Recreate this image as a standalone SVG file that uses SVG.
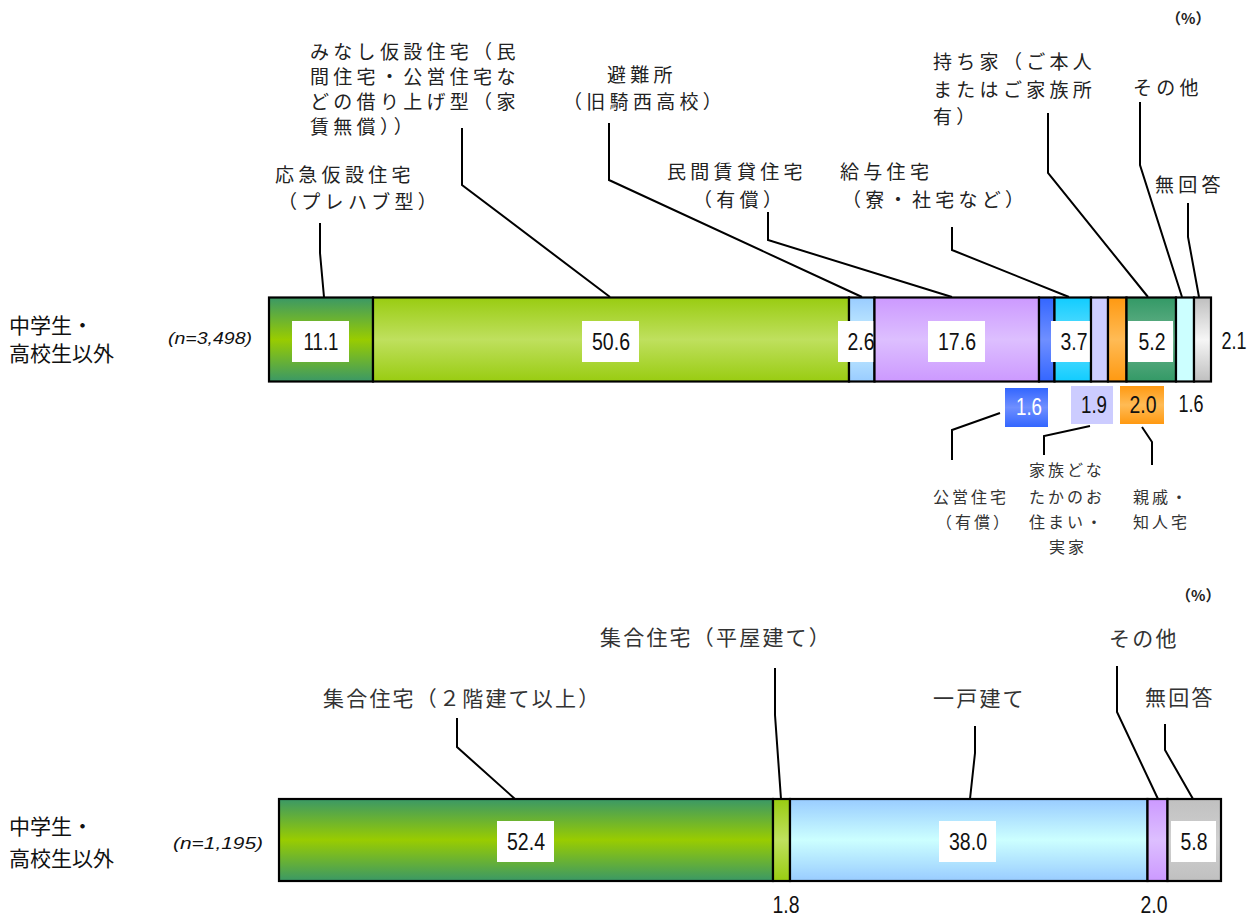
<svg xmlns="http://www.w3.org/2000/svg" width="1258" height="920" viewBox="0 0 1258 920">
<defs>
<linearGradient id="gGreenYG" x1="0" y1="0" x2="0" y2="1"><stop offset="0" stop-color="#3a9866"/><stop offset="0.5" stop-color="#99cc00"/><stop offset="1" stop-color="#3a9866"/></linearGradient>
<linearGradient id="gYG" x1="0" y1="0" x2="0" y2="1"><stop offset="0" stop-color="#99cc11"/><stop offset="0.5" stop-color="#bfe05e"/><stop offset="1" stop-color="#99cc11"/></linearGradient>
<linearGradient id="gLBlue" x1="0" y1="0" x2="0" y2="1"><stop offset="0" stop-color="#99ccff"/><stop offset="0.5" stop-color="#ccf2ff"/><stop offset="1" stop-color="#99ccff"/></linearGradient>
<linearGradient id="gLBlue2" x1="0" y1="0" x2="0" y2="1"><stop offset="0" stop-color="#99ccff"/><stop offset="0.5" stop-color="#ccffff"/><stop offset="1" stop-color="#99ccff"/></linearGradient>
<linearGradient id="gLav" x1="0" y1="0" x2="0" y2="1"><stop offset="0" stop-color="#cc99ff"/><stop offset="0.5" stop-color="#ddbfff"/><stop offset="1" stop-color="#cc99ff"/></linearGradient>
<linearGradient id="gBlue" x1="0" y1="0" x2="0" y2="1"><stop offset="0" stop-color="#3366ff"/><stop offset="0.5" stop-color="#6f8fff"/><stop offset="1" stop-color="#3366ff"/></linearGradient>
<linearGradient id="gCyan" x1="0" y1="0" x2="0" y2="1"><stop offset="0" stop-color="#11ccff"/><stop offset="0.5" stop-color="#66e0ff"/><stop offset="1" stop-color="#11ccff"/></linearGradient>
<linearGradient id="gOrange" x1="0" y1="0" x2="0" y2="1"><stop offset="0" stop-color="#ff9911"/><stop offset="0.5" stop-color="#ffbb55"/><stop offset="1" stop-color="#ff9911"/></linearGradient>
<linearGradient id="gGreen" x1="0" y1="0" x2="0" y2="1"><stop offset="0" stop-color="#339966"/><stop offset="0.5" stop-color="#6cb48d"/><stop offset="1" stop-color="#339966"/></linearGradient>
<linearGradient id="gGray" x1="0" y1="0" x2="0" y2="1"><stop offset="0" stop-color="#bfbfbf"/><stop offset="0.5" stop-color="#f6f6f6"/><stop offset="1" stop-color="#bfbfbf"/></linearGradient>
<linearGradient id="gGray2" x1="0" y1="0" x2="0" y2="1"><stop offset="0" stop-color="#c0c0c0"/><stop offset="0.5" stop-color="#d0d0d0"/><stop offset="1" stop-color="#c0c0c0"/></linearGradient>
</defs>
<style>
.seg{stroke:#000;stroke-width:2.2}
.box{fill:#fff}
.val{font-family:"Liberation Sans",Arial,sans-serif;font-size:24px;fill:#111;text-anchor:middle}
.lbl{font-family:"Noto Sans CJK JP",sans-serif;font-size:19px;letter-spacing:4.3px;fill:#222}
.lbs{font-family:"Noto Sans CJK JP",sans-serif;font-size:16px;letter-spacing:3px;fill:#333}
.lbb{font-family:"Noto Sans CJK JP",sans-serif;font-size:21px;letter-spacing:2.2px;fill:#333}
.cat{font-family:"Noto Sans CJK JP",sans-serif;font-size:21px;fill:#111}
.n{font-family:"Liberation Sans",Arial,sans-serif;font-size:17px;font-style:italic;fill:#111}
.pct{font-family:"Noto Sans CJK JP",sans-serif;font-size:15px;font-weight:bold;fill:#222}
.ln{fill:none;stroke:#000;stroke-width:2}
</style>

<g id="connectors">
<polyline class="ln" points="320,223 320,253 324,297"/>
<polyline class="ln" points="462,128 462,185 610,297"/>
<polyline class="ln" points="609,123 609,180 862,297"/>
<polyline class="ln" points="768,212 768,240 952,297"/>
<polyline class="ln" points="952,227 952,250 1069,297"/>
<polyline class="ln" points="1048,113 1048,173 1148,297"/>
<polyline class="ln" points="1140,102 1140,165 1182,297"/>
<polyline class="ln" points="1188,203 1188,237 1199,297"/>
<polyline class="ln" points="1000,413 952,430 952,460"/>
<polyline class="ln" points="1090,426 1044,436 1044,455"/>
<polyline class="ln" points="1142,427 1152,442 1152,465"/>
<polyline class="ln" points="457,718 457,747 515,799"/>
<polyline class="ln" points="775,668 775,715 781,799"/>
<polyline class="ln" points="975,726 975,753 970,799"/>
<polyline class="ln" points="1117,666 1117,712 1158,799"/>
<polyline class="ln" points="1165,724 1165,750 1193,799"/>
</g>

<g id="header-top"><text class="pct" x="1166" y="24">（%）</text></g>
<g id="header-bottom"><text class="pct" x="1176" y="601">（%）</text></g>

<g id="row1-label">
<text class="cat" x="9" y="333">中学生・</text>
<text class="cat" x="9" y="361">高校生以外</text>
<text class="n" x="168" y="344" textLength="84" lengthAdjust="spacingAndGlyphs">(n=3,498)</text>
</g>

<g id="row2-label">
<text class="cat" x="9" y="834">中学生・</text>
<text class="cat" x="9" y="866">高校生以外</text>
<text class="n" x="173" y="849" textLength="90" lengthAdjust="spacingAndGlyphs">(n=1,195)</text>
</g>

<g id="bar1">
<g id="s-ouq"><rect class="seg" x="269" y="297.5" width="104" height="84" fill="url(#gGreenYG)"/><rect class="box" x="292" y="321" width="57" height="41"/><text class="val" x="321" y="350" textLength="35" lengthAdjust="spacingAndGlyphs">11.1</text></g>
<g id="s-minashi"><rect class="seg" x="373" y="297.5" width="476" height="84" fill="url(#gYG)"/><rect class="box" x="582" y="321" width="57" height="41"/><text class="val" x="611" y="350" textLength="38" lengthAdjust="spacingAndGlyphs">50.6</text></g>
<g id="s-hinan"><rect class="seg" x="849" y="297.5" width="25.5" height="84" fill="url(#gLBlue)"/><rect class="box" x="838" y="321" width="44" height="41"/><text class="val" x="861" y="350" textLength="27" lengthAdjust="spacingAndGlyphs">2.6</text></g>
<g id="s-minkan"><rect class="seg" x="874.5" y="297.5" width="164.5" height="84" fill="url(#gLav)"/><rect class="box" x="928" y="321" width="57" height="41"/><text class="val" x="957" y="350" textLength="38" lengthAdjust="spacingAndGlyphs">17.6</text></g>
<g id="s-koei"><rect class="seg" x="1039" y="297.5" width="15.5" height="84" fill="url(#gBlue)"/></g>
<g id="s-kyuyo"><rect class="seg" x="1054.5" y="297.5" width="36.5" height="84" fill="url(#gCyan)"/><rect class="box" x="1051" y="321" width="44" height="41"/><text class="val" x="1074" y="350" textLength="27" lengthAdjust="spacingAndGlyphs">3.7</text></g>
<g id="s-kazoku"><rect class="seg" x="1091" y="297.5" width="17" height="84" fill="#ccccff"/></g>
<g id="s-shinseki"><rect class="seg" x="1108" y="297.5" width="18.5" height="84" fill="url(#gOrange)"/></g>
<g id="s-mochiie"><rect class="seg" x="1126.5" y="297.5" width="49.5" height="84" fill="url(#gGreen)"/><rect class="box" x="1128" y="321" width="45" height="41"/><text class="val" x="1152" y="350" textLength="27" lengthAdjust="spacingAndGlyphs">5.2</text></g>
<g id="s-sonota"><rect class="seg" x="1176" y="297.5" width="18" height="84" fill="#ccffff"/></g>
<g id="s-muka"><rect class="seg" x="1194" y="297.5" width="17" height="84" fill="url(#gGray)"/></g>
<text class="val" x="1234" y="349" textLength="25" lengthAdjust="spacingAndGlyphs">2.1</text>
</g>

<g id="bar1-below">
<g id="v-koei"><rect x="1005" y="388" width="43" height="39" fill="url(#gBlue)"/><text class="val" x="1029" y="415" textLength="26" lengthAdjust="spacingAndGlyphs" style="fill:#fff">1.6</text></g>
<g id="v-kazoku"><rect x="1071" y="386" width="42" height="38" fill="#ccccff"/><text class="val" x="1094" y="413" textLength="26" lengthAdjust="spacingAndGlyphs">1.9</text></g>
<g id="v-shinseki"><rect x="1120" y="386" width="44" height="38" fill="url(#gOrange)"/><text class="val" x="1143" y="413" textLength="27" lengthAdjust="spacingAndGlyphs">2.0</text></g>
<text class="val" x="1191" y="412" textLength="25" lengthAdjust="spacingAndGlyphs">1.6</text>
</g>

<g id="labels-top">
<g id="l-minashi">
<text class="lbl" x="310" y="58.5">みなし仮設住宅（民</text>
<text class="lbl" x="310" y="83.5">間住宅・公営住宅な</text>
<text class="lbl" x="310" y="108.5">どの借り上げ型（家</text>
<text class="lbl" x="310" y="134">賃無償））</text>
</g>
<g id="l-ouq">
<text class="lbl" x="275" y="182">応急仮設住宅</text>
<text class="lbl" x="278" y="208.5">（プレハブ型）</text>
</g>
<g id="l-hinan">
<text class="lbl" x="607" y="82">避難所</text>
<text class="lbl" x="563" y="108.5">（旧騎西高校）</text>
</g>
<g id="l-minkan">
<text class="lbl" x="667" y="178.5">民間賃貸住宅</text>
<text class="lbl" x="693" y="207">（有償）</text>
</g>
<g id="l-kyuyo">
<text class="lbl" x="840" y="178.5">給与住宅</text>
<text class="lbl" x="842" y="207">（寮・社宅など）</text>
</g>
<g id="l-mochiie">
<text class="lbl" x="933" y="68.5">持ち家（ご本人</text>
<text class="lbl" x="933" y="97">またはご家族所</text>
<text class="lbl" x="933" y="123.5">有）</text>
</g>
<g id="l-sonota"><text class="lbl" x="1133" y="95">その他</text></g>
<g id="l-muka"><text class="lbl" x="1155" y="192">無回答</text></g>
</g>

<g id="labels-below">
<g id="l-koei">
<text class="lbs" x="933" y="502.5">公営住宅</text>
<text class="lbs" x="936" y="527.5">（有償）</text>
</g>
<g id="l-kazoku">
<text class="lbs" x="1029" y="476">家族どな</text>
<text class="lbs" x="1029" y="502.5">たかのお</text>
<text class="lbs" x="1029" y="527.5">住まい・</text>
<text class="lbs" x="1049" y="552.5">実家</text>
</g>
<g id="l-shinseki">
<text class="lbs" x="1133" y="502.5">親戚・</text>
<text class="lbs" x="1133" y="527.5">知人宅</text>
</g>
</g>

<g id="bar2">
<g id="t-shugo2"><rect class="seg" x="279" y="799" width="494" height="82" fill="url(#gGreenYG)"/><rect class="box" x="497" y="821" width="57" height="41"/><text class="val" x="526" y="850" textLength="38" lengthAdjust="spacingAndGlyphs">52.4</text></g>
<g id="t-shugo1"><rect class="seg" x="773" y="799" width="17" height="82" fill="url(#gYG)"/></g>
<g id="t-ikko"><rect class="seg" x="790" y="799" width="357.5" height="82" fill="url(#gLBlue2)"/><rect class="box" x="939" y="821" width="57" height="41"/><text class="val" x="968" y="850" textLength="38" lengthAdjust="spacingAndGlyphs">38.0</text></g>
<g id="t-sonota"><rect class="seg" x="1147.5" y="799" width="20" height="82" fill="url(#gLav)"/></g>
<g id="t-muka"><rect class="seg" x="1167.5" y="799" width="53.5" height="82" fill="url(#gGray2)"/><rect class="box" x="1171" y="821" width="45" height="41"/><text class="val" x="1194" y="850" textLength="27" lengthAdjust="spacingAndGlyphs">5.8</text></g>
<text class="val" x="786" y="913" textLength="27" lengthAdjust="spacingAndGlyphs">1.8</text>
<text class="val" x="1154" y="913" textLength="27" lengthAdjust="spacingAndGlyphs">2.0</text>
</g>

<g id="labels-bottom">
<text class="lbb" x="600" y="645">集合住宅（平屋建て）</text>
<text class="lbb" x="323" y="706">集合住宅（２階建て以上）</text>
<text class="lbb" x="933" y="706">一戸建て</text>
<text class="lbb" x="1109" y="646">その他</text>
<text class="lbb" x="1145" y="705">無回答</text>
</g>
</svg>
